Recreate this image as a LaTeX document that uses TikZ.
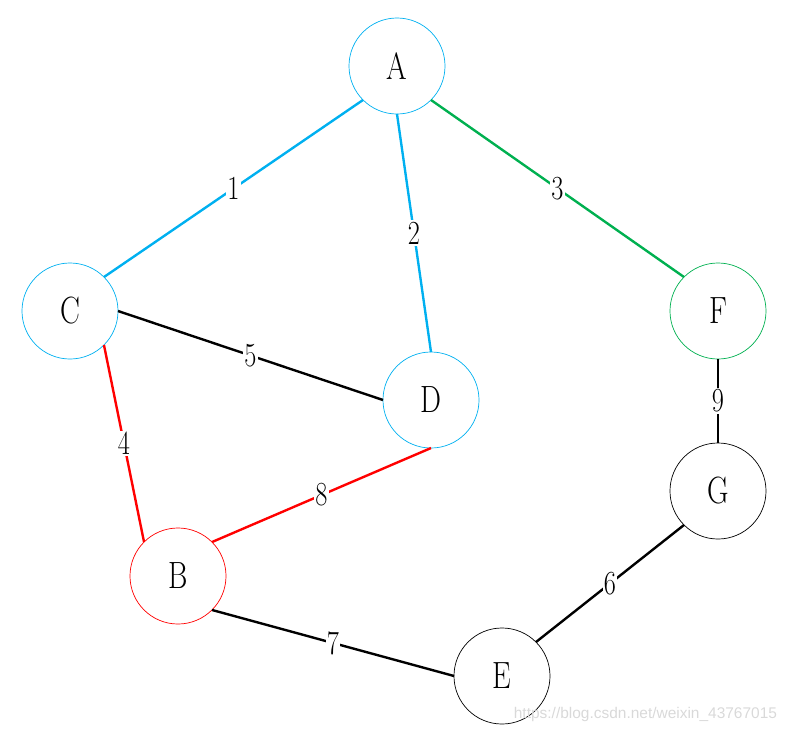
\documentclass[tikz,border=0pt]{standalone}
\usepackage{fontspec}
\setmainfont[FakeStretch=0.78]{Latin Modern Roman}
\newfontfamily\markfont{Liberation Sans}
\usepackage{xcolor}
\usetikzlibrary{positioning}
\definecolor{eblue}{RGB}{0,176,240}
\definecolor{egreen}{RGB}{0,176,80}
\definecolor{ered}{RGB}{255,0,0}

\begin{document}
\begin{tikzpicture}[x=0.025cm, y=-0.025cm,
  vert/.style={draw, circle, line width=0.5pt, minimum size=2.4cm, inner sep=0pt, outer sep=0pt, font=\fontsize{27}{30}\selectfont},
  edge/.style={line width=1.7pt},
  wt/.style={midway, fill=white, inner sep=1pt, font=\fontsize{24}{26}\selectfont}
]
\useasboundingbox (0,0) rectangle (791,732);
% vertices
\node[vert, eblue, text=black] (A) at (397,66) {A};
\node[vert, eblue, text=black] (C) at (70,311) {C};
\node[vert, eblue, text=black] (D) at (431,400) {D};
\node[vert, egreen, text=black] (F) at (718,311) {F};
\node[vert] (G) at (718,491) {G};
\node[vert, ered, text=black] (B) at (178,576) {B};
\node[vert] (E) at (502,676) {E};
% edges
\draw[edge, eblue] (A.south west) -- (C.north east) node[wt, text=black] {1};
\draw[edge, eblue] (A.south) -- (D.north) node[wt, text=black] {2};
\draw[edge, egreen] (A.south east) -- (F.north west) node[wt, text=black] {3};
\draw[edge, ered] (C.south east) -- (B.north west) node[wt, text=black] {4};
\draw[edge] (C.east) -- (D.west) node[wt] {5};
\draw[edge] (G.south west) -- (E.north east) node[wt] {6};
\draw[edge] (B.south east) -- (E.west) node[wt] {7};
\draw[edge, ered] (B.north east) -- (D.south) node[wt, text=black] {8};
\draw[edge] (F) -- (G) node[wt] {9};
\node[anchor=east, text=gray!30, font=\markfont\fontsize{11}{13}\selectfont] (mark) at (782,714) {https://blog.csdn.net/weixin\_43767015};
\end{tikzpicture}
\end{document}
